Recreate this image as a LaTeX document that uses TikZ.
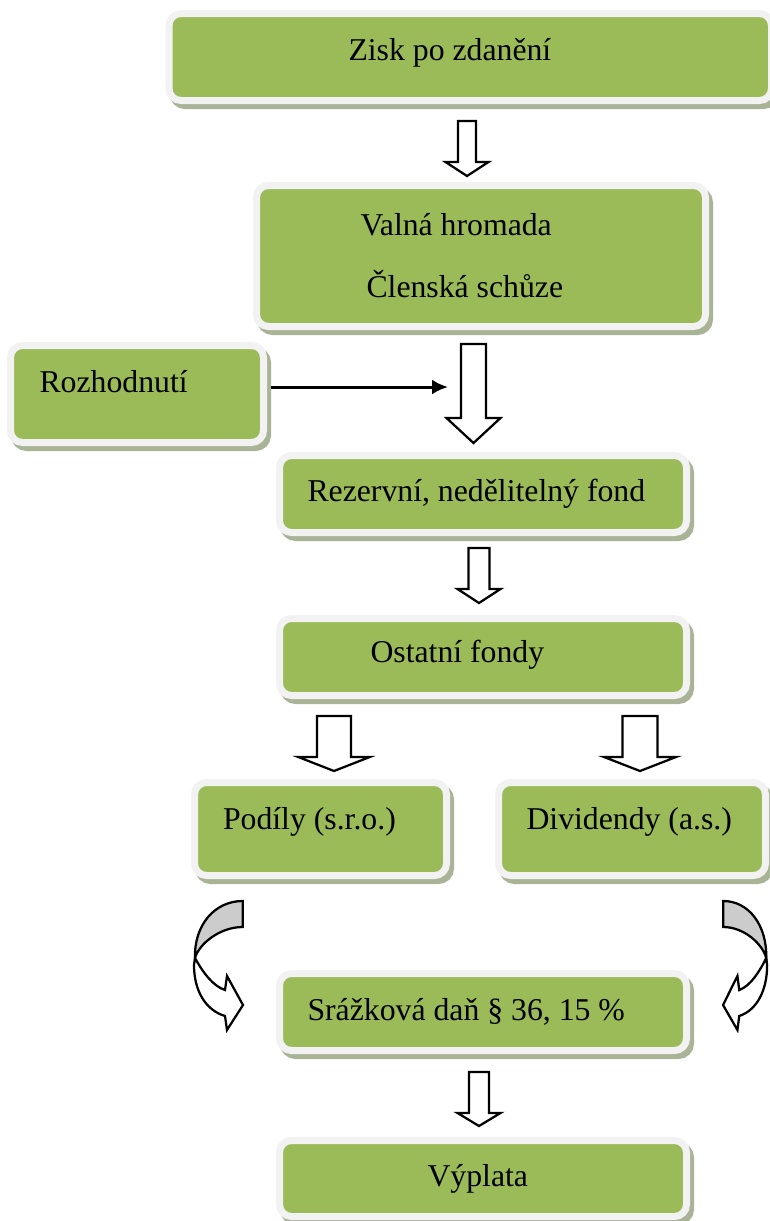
\documentclass[tikz,border=0pt]{standalone}
\usepackage{fontspec}
\setmainfont{Liberation Serif}
\usetikzlibrary{arrows.meta}

\definecolor{boxgreen}{HTML}{9BBB59}
\definecolor{framegray}{HTML}{F2F2F2}
\definecolor{shadowgreen}{HTML}{A9B396}
\definecolor{backgray}{HTML}{CCCCCC}

\tikzset{
  box/.style={rectangle, rounded corners=4.8pt, fill=boxgreen, draw=framegray,
    line width=2.8pt, inner sep=0pt,
    preaction={draw=shadowgreen, fill=shadowgreen, line width=2.8pt,
      transform canvas={xshift=1.6pt, yshift=-2pt}}},
  boxsize/.style 2 args={minimum width=#1*0.4pt, minimum height=#2*0.4pt},
  boxtext/.style={anchor=base west, inner sep=0pt, font=\fontsize{12.7}{15}\selectfont},
  hollow/.style={draw=black, fill=white, line width=0.9pt},
  conn/.style={line width=1.2pt, -{Latex[length=6.4pt,width=6pt]}},
}

% x, y top, y tip, shaft half width, head half width, head length
\newcommand{\blockarrow}[6]{%
  \draw[hollow] ({#1-#4},#2) -- ({#1+#4},#2) -- ({#1+#4},{#3-#6}) -- ({#1+#5},{#3-#6})
    -- (#1,#3) -- ({#1-#5},{#3-#6}) -- ({#1-#4},{#3-#6}) -- cycle;}

% twisted curved arrow, tail at the origin
\newcommand{\twistarrow}[1]{%
  \begin{scope}[#1]
    \filldraw[hollow, fill=backgray] (0,0) .. controls (-28,0) and (-48.7,24) .. (-47.7,57)
      .. controls (-43.7,43) and (-23,26) .. (0,26) -- cycle;
    \filldraw[hollow] (-47.7,57) .. controls (-40,71) and (-30,85) .. (-17.7,89)
      -- (-15.7,75) -- (0.3,104) -- (-15.7,129) -- (-17.7,115)
      .. controls (-37.7,109) and (-48.7,89) .. (-48.7,64) -- cycle;
  \end{scope}}

\begin{document}
\begin{tikzpicture}[x=0.4pt, y=-0.4pt]
\useasboundingbox (0,0) rectangle (770,1221);

% boxes
\node[box, boxsize={602.5}{87}] (zisk) at (470.25,57) {};
\node[box, boxsize={449}{141}] (valna) at (481,256) {};
\node[box, boxsize={253}{97}] (rozhodnuti) at (137,394) {};
\node[box, boxsize={407}{77}] (rezervni) at (483,494) {};
\node[box, boxsize={407}{77}] (ostatni) at (483,657) {};
\node[box, boxsize={252}{93}] (podily) at (320.5,829) {};
\node[box, boxsize={267}{93}] (dividendy) at (632,829) {};
\node[box, boxsize={407}{77}] (srazkova) at (483,1012) {};
\node[box, boxsize={407}{76}] (vyplata) at (483,1178.5) {};

% texts
\node[boxtext] (zisk-t) at (348,60) {Zisk po zdanění};
\node[boxtext] (valna-t) at (360,235) {Valná hromada};
\node[boxtext] (clenska-t) at (366,297) {Členská schůze};
\node[boxtext] (rozhodnuti-t) at (39,392.7) {Rozhodnutí};
\node[boxtext] (rezervni-t) at (307,501.7) {Rezervní, nedělitelný fond};
\node[boxtext] (ostatni-t) at (370,662.7) {Ostatní fondy};
\node[boxtext] (podily-t) at (222.5,829.3) {Podíly (s.r.o.)};
\node[boxtext] (dividendy-t) at (526,829.3) {Dividendy (a.s.)};
\node[boxtext] (srazkova-t) at (307,1020) {Srážková daň § 36, 15 \%};
\node[boxtext] (vyplata-t) at (427,1186) {Výplata};

% block arrows
\blockarrow{467}{121}{176}{9}{21.5}{14}
\blockarrow{473.5}{344}{443}{12.5}{27}{25}
\blockarrow{479}{548}{603}{10.5}{21.5}{14}
\blockarrow{334}{716}{771}{17}{35.75}{14}
\blockarrow{640}{716}{771}{17.5}{36}{14}
\blockarrow{479}{1072}{1126}{10}{21.5}{13}

% decision arrow
\coordinate (merge) at (448,387);
\draw[conn, shorten <=1.6pt] (rozhodnuti.east |- merge) -- (merge);

% curved arrows to the tax
\twistarrow{shift={(242.7,901)}}
\twistarrow{shift={(723.3,901)}, xscale=-0.9}
\end{tikzpicture}
\end{document}
